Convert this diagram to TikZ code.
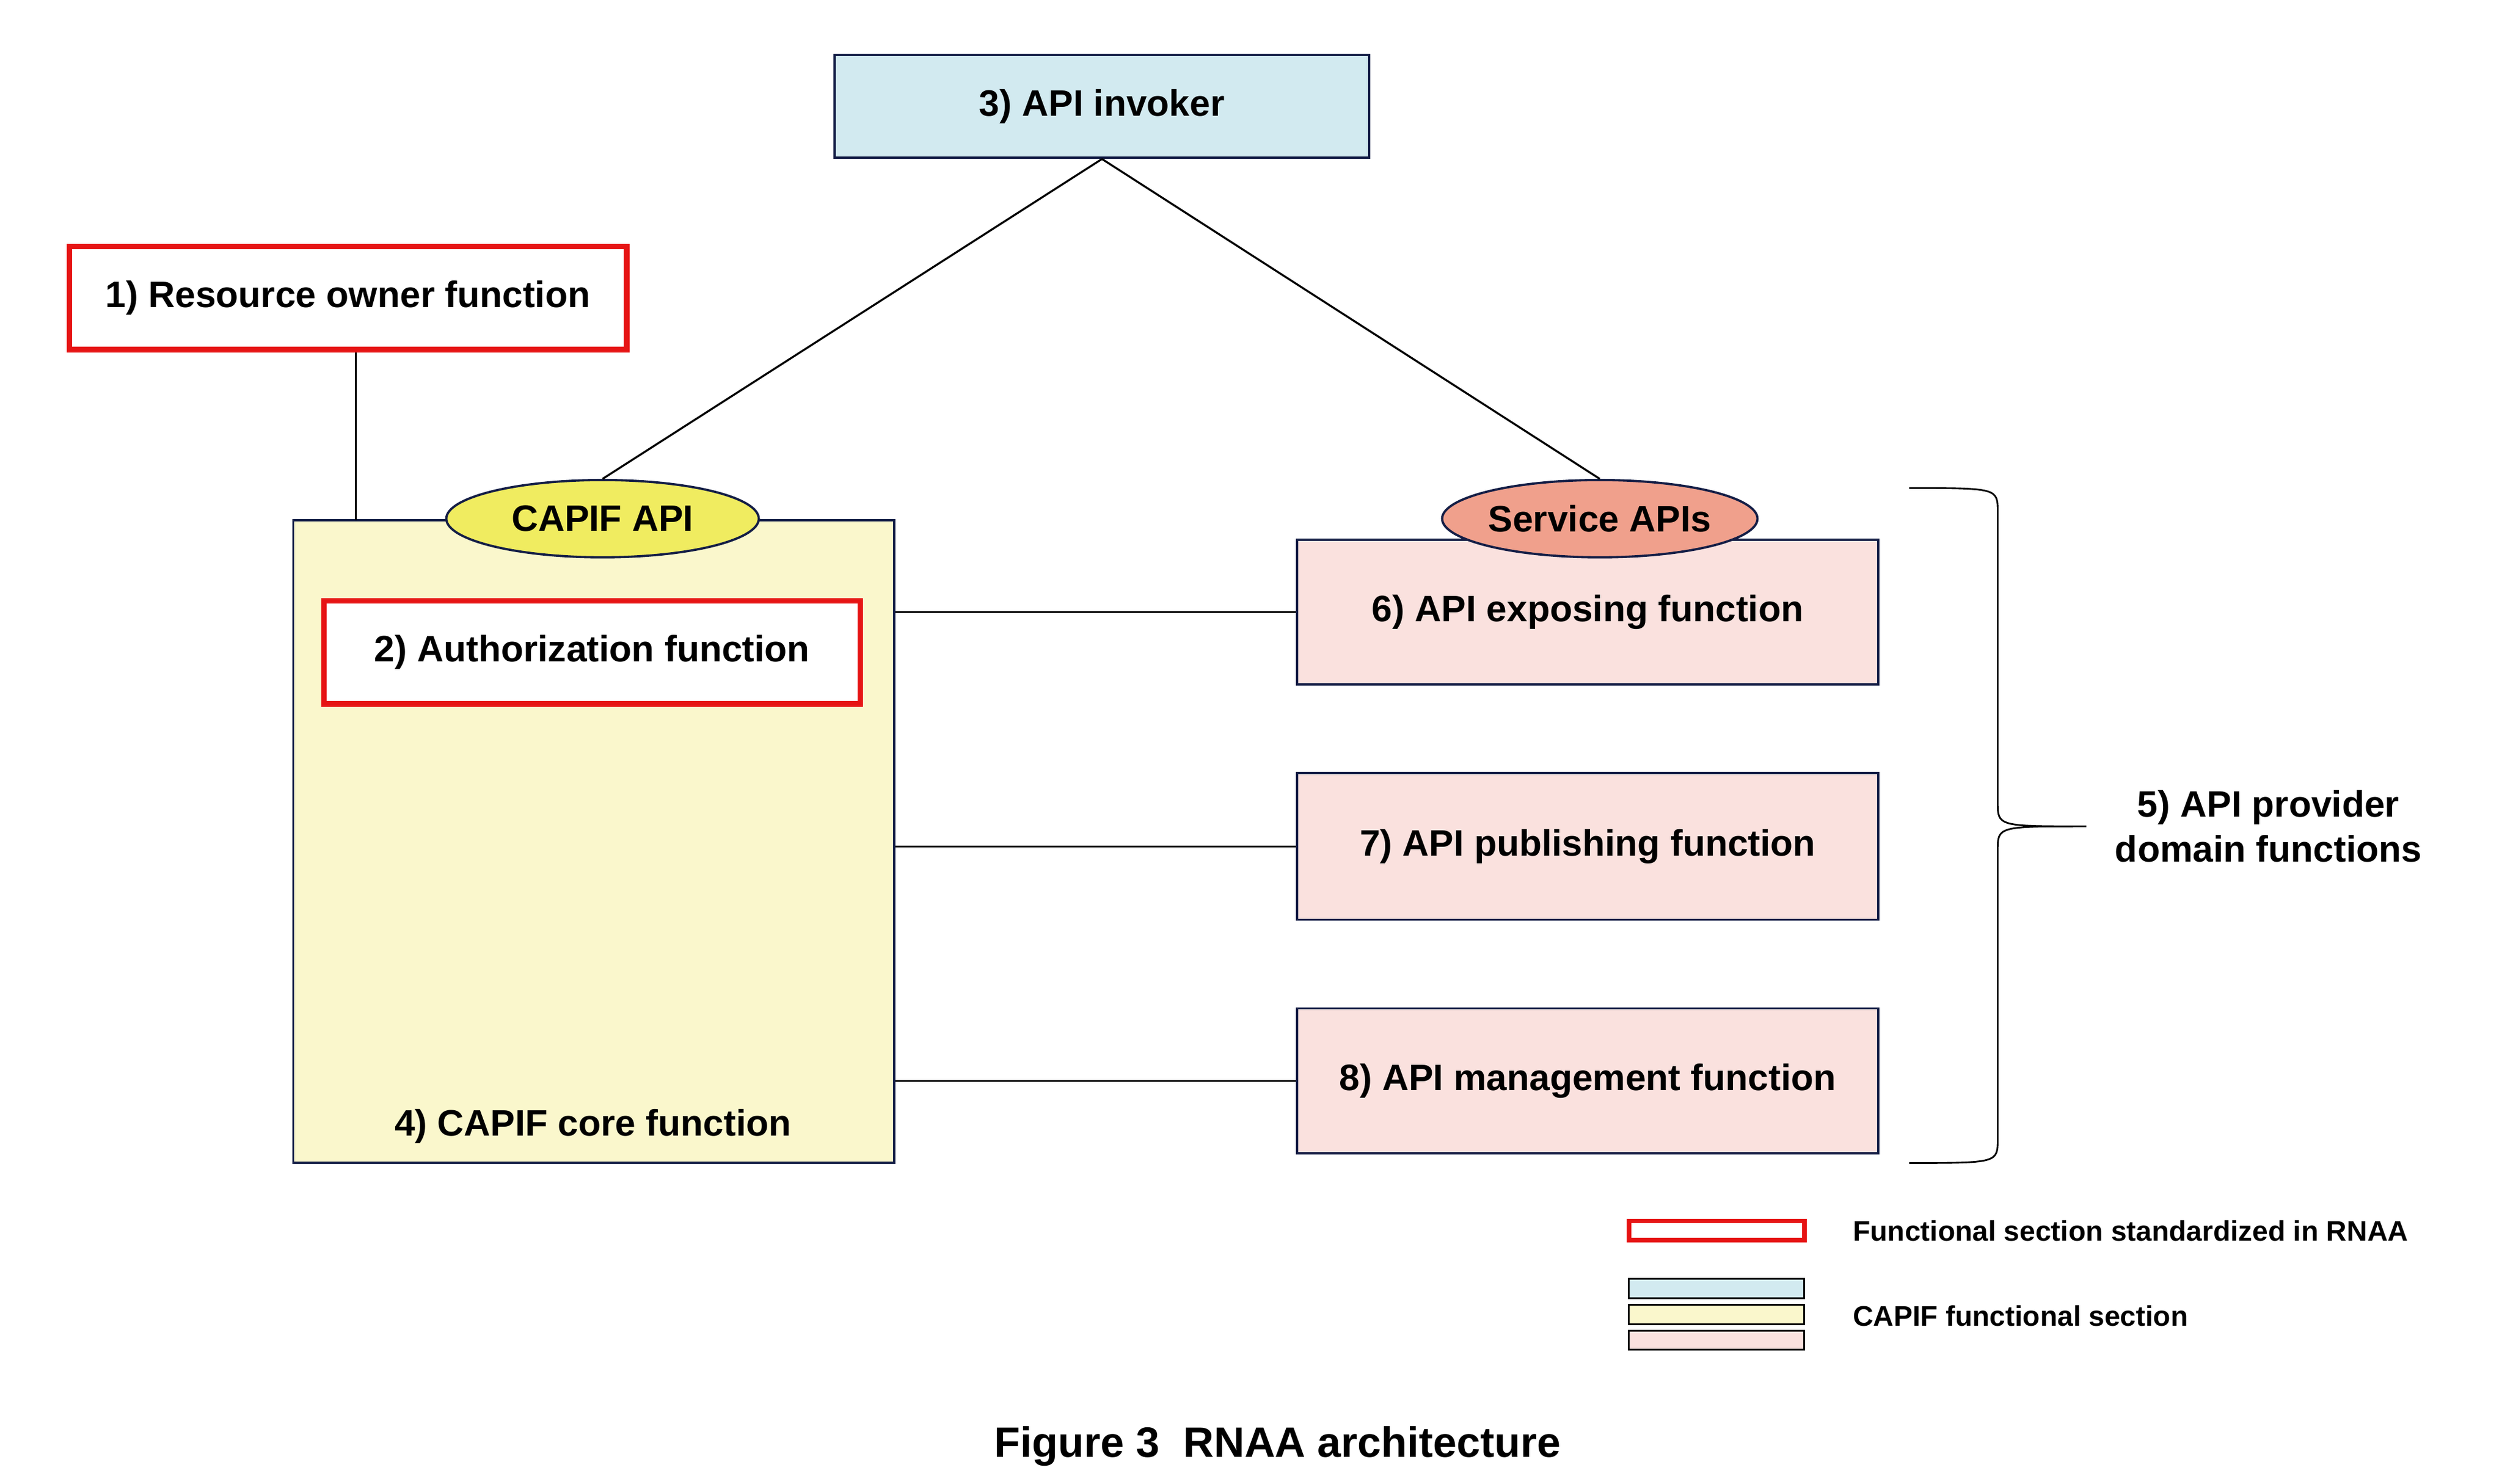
\documentclass[tikz,border=0pt]{standalone}
\usepackage{fontspec}
\setmainfont{Liberation Sans}
\usetikzlibrary{positioning,shapes.geometric}
\definecolor{invokerblue}{RGB}{210,234,240}
\definecolor{coreyellow}{RGB}{250,247,204}
\definecolor{apiyellow}{RGB}{240,236,96}
\definecolor{svcred}{RGB}{240,160,140}
\definecolor{provpink}{RGB}{250,225,222}
\definecolor{navy}{RGB}{20,30,70}
\definecolor{stdred}{RGB}{230,20,20}
\begin{document}
\begin{tikzpicture}[
  x=0.02cm, y=-0.02cm,
  every node/.style={font=\fontsize{13}{16}\selectfont\bfseries},
  func/.style={draw=navy, line width=0.8pt, rectangle, inner sep=0pt},
  std/.style={draw=stdred, line width=2pt, fill=white, rectangle, inner sep=0pt},
  api/.style={draw=navy, line width=0.8pt, ellipse, minimum width=3.88cm, minimum height=0.96cm, inner sep=0pt},
  link/.style={draw=black, line width=0.7pt},
  legend/.style={font=\fontsize{10}{12}\selectfont\bfseries, anchor=west},
  lbox/.style={draw=black, line width=0.6pt, minimum width=2.18cm, minimum height=0.24cm, inner sep=0pt}
]
\useasboundingbox (0,0) rectangle (1553,921);
% main boxes
\node[func, fill=invokerblue, minimum width=6.64cm, minimum height=1.28cm] (invoker) at (684,66) {3) API invoker};
\node[std, minimum width=6.92cm, minimum height=1.28cm] (owner) at (216,185) {1) Resource owner function};
\node[func, fill=coreyellow, minimum width=7.46cm, minimum height=7.98cm] (core) at (368.5,522.5) {};
\node[anchor=base] (corelabel) at (368,705) {4) CAPIF core function};
\node[std, minimum width=6.66cm, minimum height=1.28cm] (auth) at (367.5,405) {2) Authorization function};
\node[api, fill=apiyellow] (capifapi) at (374,322) {CAPIF API};
\node[func, fill=provpink, minimum width=7.22cm, minimum height=1.80cm] (expose) at (985.5,380) {6) API exposing function};
\node[func, fill=provpink, minimum width=7.22cm, minimum height=1.82cm] (publish) at (985.5,525.5) {7) API publishing function};
\node[func, fill=provpink, minimum width=7.22cm, minimum height=1.80cm] (manage) at (985.5,671) {8) API management function};
\node[api, fill=svcred] (service) at (993,322) {Service APIs};
% connectors
\coordinate (ownerfoot) at (221,323);
\path[link] (invoker.south) -- (capifapi.north);
\path[link] (invoker.south) -- (service.north);
\path[link] (owner.south -| ownerfoot) -- (ownerfoot);
\path[link] (core.east |- expose.west) -- (expose.west);
\path[link] (core.east |- publish.west) -- (publish.west);
\path[link] (core.east |- manage.west) -- (manage.west);
% brace
\coordinate (bracetip) at (1295,513);
\draw[line width=0.6pt] (1185,303) .. controls (1240,303) .. (1240,318) -- (1240,498)
  .. controls (1240,513) .. (bracetip) .. controls (1240,513) .. (1240,528) -- (1240,707)
  .. controls (1240,722) .. (1185,722);
\node[align=center] (provider) at (1408,513) {5) API provider\\domain functions};
% legend
\node[lbox, draw=stdred, line width=1.6pt] (lstd) at (1065.5,764) {};
\node[legend] (lstdtext) at (1144,764) {Functional section standardized in RNAA};
\node[lbox, fill=invokerblue] (lblue) at (1065.5,800) {};
\node[lbox, fill=coreyellow] (lyellow) at (1065.5,816) {};
\node[lbox, fill=provpink] (lpink) at (1065.5,832) {};
\node[legend] (lcapif) at (1144,817) {CAPIF functional section};
% caption
\node[font=\fontsize{15}{18}\selectfont\bfseries] (caption) at (793,898) {Figure 3\ \ RNAA architecture};
\end{tikzpicture}
\end{document}
